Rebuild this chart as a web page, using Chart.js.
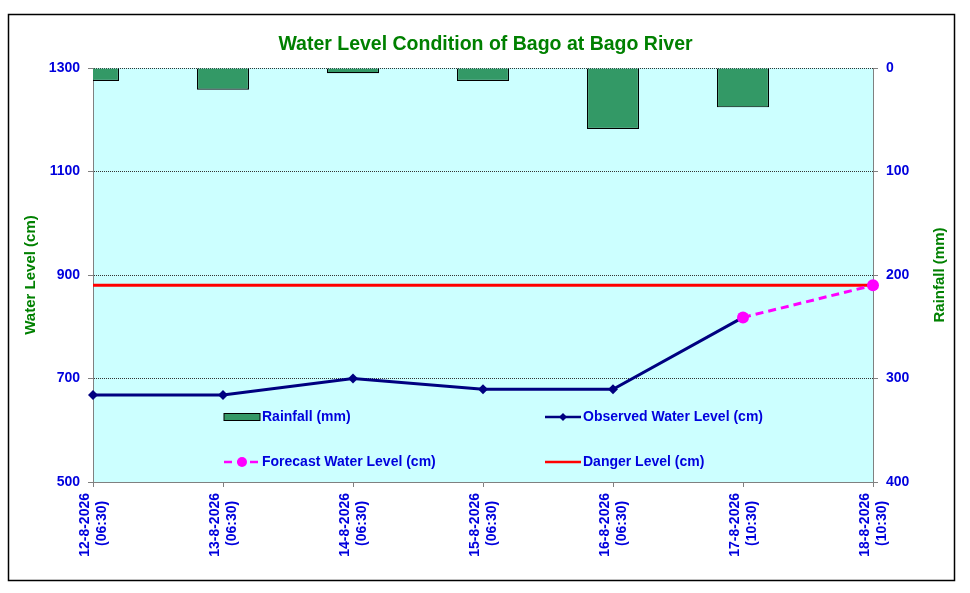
<!DOCTYPE html>
<html>
<head>
<meta charset="utf-8">
<title>Water Level Condition of Bago at Bago River</title>
<script src="https://cdn.jsdelivr.net/npm/chart.js@4.4.0/dist/chart.umd.min.js"></script>
<style>
  html, body { margin: 0; padding: 0; background: #fff; }
  #wrap { width: 970px; height: 593px; }
</style>
</head>
<body>
<div id="wrap"><canvas id="levelChart"></canvas></div>
<script>
"use strict";

// värden
const dates = ["12-8-2026", "13-8-2026", "14-8-2026", "15-8-2026", "16-8-2026", "17-8-2026", "18-8-2026"];
const times = ["(06:30)", "(06:30)", "(06:30)", "(06:30)", "(06:30)", "(10:30)", "(10:30)"];

const rainfall = [12.5, 21, 5, 12.5, 59, 38, null];
const observed = [668, 668, 700, 679, 679, 818, null];
const forecast = [null, null, null, null, null, 818, 880];
const danger = [880, 880, 880, 880, 880, 880, 880];

const levelMin = 500, levelMax = 1300, levelStep = 200;
const rainMin = 0, rainMax = 400, rainStep = 100;
const rainTitle = "Rainfall (mm)";

const blue = "#0000DD";
const green = "#008000";
const axisGray = "#808080";

Chart.defaults.font.family = "'Liberation Sans', Arial, sans-serif";

// tvåradiga etiketter, andra raden centrerad under den första
const labels = dates.map((d, i) => [d, times[i] + "\u00a0\u00a0"]);

// bakgrund, ram och ljusblå ritarea
const framePlugin = {
    id: "frame",
    beforeDraw(chart) {
        const { ctx, chartArea: a, width, height } = chart;
        ctx.save();
        ctx.fillStyle = "#fff";
        ctx.fillRect(0, 0, width, height);
        ctx.fillStyle = "#CCFFFF";
        ctx.fillRect(a.left, a.top, a.right - a.left, a.bottom - a.top);
        ctx.strokeStyle = "#000";
        ctx.lineWidth = 1.5;
        ctx.strokeRect(8.5, 14.5, 946, 566);
        ctx.restore();
    },
    // högra axeltiteln ska läsas nerifrån och upp, som den vänstra
    afterDraw(chart) {
        const { ctx, chartArea: a } = chart;
        ctx.save();
        ctx.translate(940, (a.top + a.bottom) / 2);
        ctx.rotate(-Math.PI / 2);
        ctx.fillStyle = green;
        ctx.font = "bold 15px 'Liberation Sans', Arial, sans-serif";
        ctx.textAlign = "center";
        ctx.textBaseline = "middle";
        ctx.fillText(rainTitle, 0, 0);
        ctx.restore();
    }
};

// legenden ligger inne i ritarean, två kolumner
const legendPlugin = {
    id: "insideLegend",
    afterDraw(chart) {
        const { ctx, chartArea: a } = chart;
        const ds = chart.data.datasets;
        const cols = [a.left + 131, a.left + 452];
        const rows = [a.top + 349, a.top + 394];
        const slots = [[0, 0], [1, 0], [0, 1], [1, 1]];

        ctx.save();
        ds.forEach((d, i) => {
            const x = cols[slots[i][0]];
            const y = rows[slots[i][1]];

            if (d.type === "bar") {
                ctx.fillStyle = d.backgroundColor;
                ctx.fillRect(x, y - 3.5, 36, 7);
                ctx.strokeStyle = "#000";
                ctx.lineWidth = 1;
                ctx.strokeRect(x, y - 3.5, 36, 7);
            } else {
                ctx.strokeStyle = d.borderColor;
                ctx.lineWidth = 2.5;
                ctx.setLineDash(d.borderDash || []);
                ctx.beginPath();
                ctx.moveTo(x, y);
                ctx.lineTo(x + 36, y);
                ctx.stroke();
                ctx.setLineDash([]);
                ctx.fillStyle = d.borderColor;
                if (d.pointStyle === "rectRot") {
                    ctx.beginPath();
                    ctx.moveTo(x + 18, y - 4);
                    ctx.lineTo(x + 22, y);
                    ctx.lineTo(x + 18, y + 4);
                    ctx.lineTo(x + 14, y);
                    ctx.closePath();
                    ctx.fill();
                } else if (d.pointStyle === "circle" && d.pointRadius > 0) {
                    ctx.beginPath();
                    ctx.arc(x + 18, y, 5, 0, Math.PI * 2);
                    ctx.fill();
                }
            }

            ctx.fillStyle = blue;
            ctx.font = "bold 14px 'Liberation Sans', Arial, sans-serif";
            ctx.textBaseline = "middle";
            ctx.textAlign = "left";
            ctx.fillText(d.label, x + 38, y);
        });
        ctx.restore();
    }
};

const chartEl = document.getElementById("levelChart");

new Chart(chartEl, {
    data: {
        labels: labels,
        datasets: [
            {
                type: "bar",
                label: rainTitle,
                data: rainfall,
                yAxisID: "y1",
                backgroundColor: "#339966",
                borderColor: "#000",
                borderWidth: 1.2,
                barPercentage: 0.4,
                categoryPercentage: 1,
                order: 4
            },
            {
                type: "line",
                label: "Observed Water Level (cm)",
                data: observed,
                yAxisID: "y",
                borderColor: "#000080",
                backgroundColor: "#000080",
                borderWidth: 3,
                pointStyle: "rectRot",
                pointRadius: 5,
                pointBackgroundColor: "#000080",
                pointBorderWidth: 0,
                tension: 0,
                clip: false,
                order: 2
            },
            {
                type: "line",
                label: "Forecast Water Level (cm)",
                data: forecast,
                yAxisID: "y",
                borderColor: "#FF00FF",
                backgroundColor: "#FF00FF",
                borderWidth: 3,
                borderDash: [8, 5],
                pointStyle: "circle",
                pointRadius: 6,
                pointBackgroundColor: "#FF00FF",
                pointBorderWidth: 0,
                tension: 0,
                clip: false,
                order: 1
            },
            {
                type: "line",
                label: "Danger Level (cm)",
                data: danger,
                yAxisID: "y",
                borderColor: "#FF0000",
                borderWidth: 3,
                pointRadius: 0,
                pointStyle: "line",
                tension: 0,
                order: 3
            }
        ]
    },
    options: {
        responsive: true,
        maintainAspectRatio: false,
        animation: false,
        layout: { padding: { left: 18, right: 17, top: 0, bottom: 0 } },
        plugins: {
            legend: { display: false },
            tooltip: { enabled: false },
            title: {
                display: true,
                text: "Water Level Condition of Bago at Bago River",
                color: green,
                font: { size: 19.5, weight: "bold" },
                padding: { top: 33, bottom: 11.6 }
            }
        },
        scales: {
            x: {
                type: "category",
                offset: false,
                grid: {
                    offset: false,
                    drawOnChartArea: false,
                    drawTicks: true,
                    tickLength: 5,
                    tickColor: axisGray
                },
                border: { color: axisGray, width: 1 },
                ticks: {
                    color: blue,
                    font: { size: 14, weight: "bold" },
                    autoSkip: false,
                    minRotation: 90,
                    maxRotation: 90,
                    padding: 6,
                    labelOffset: -8
                },
                afterFit(scale) { scale.height = 111; }
            },
            y: {
                position: "left",
                min: levelMin,
                max: levelMax,
                ticks: {
                    stepSize: levelStep,
                    color: blue,
                    font: { size: 14, weight: "bold" },
                    padding: 8,
                    callback: (v) => String(v)
                },
                grid: {
                    color: "#333",
                    lineWidth: 1,
                    tickColor: axisGray,
                    tickLength: 5,
                    tickBorderDash: []
                },
                border: { color: axisGray, width: 1, dash: [1, 1] },
                title: {
                    display: true,
                    text: "Water Level (cm)",
                    color: green,
                    font: { size: 15, weight: "bold" }
                },
                afterFit(scale) { scale.width = 75; }
            },
            y1: {
                position: "right",
                reverse: true,
                min: rainMin,
                max: rainMax,
                ticks: {
                    stepSize: rainStep,
                    color: blue,
                    font: { size: 14, weight: "bold" },
                    padding: 8,
                    callback: (v) => String(v)
                },
                grid: {
                    drawOnChartArea: false,
                    tickColor: axisGray,
                    tickLength: 5
                },
                border: { color: axisGray, width: 1 },
                afterFit(scale) { scale.width = 80; }
            }
        }
    },
    plugins: [framePlugin, legendPlugin]
});
</script>
</body>
</html>
